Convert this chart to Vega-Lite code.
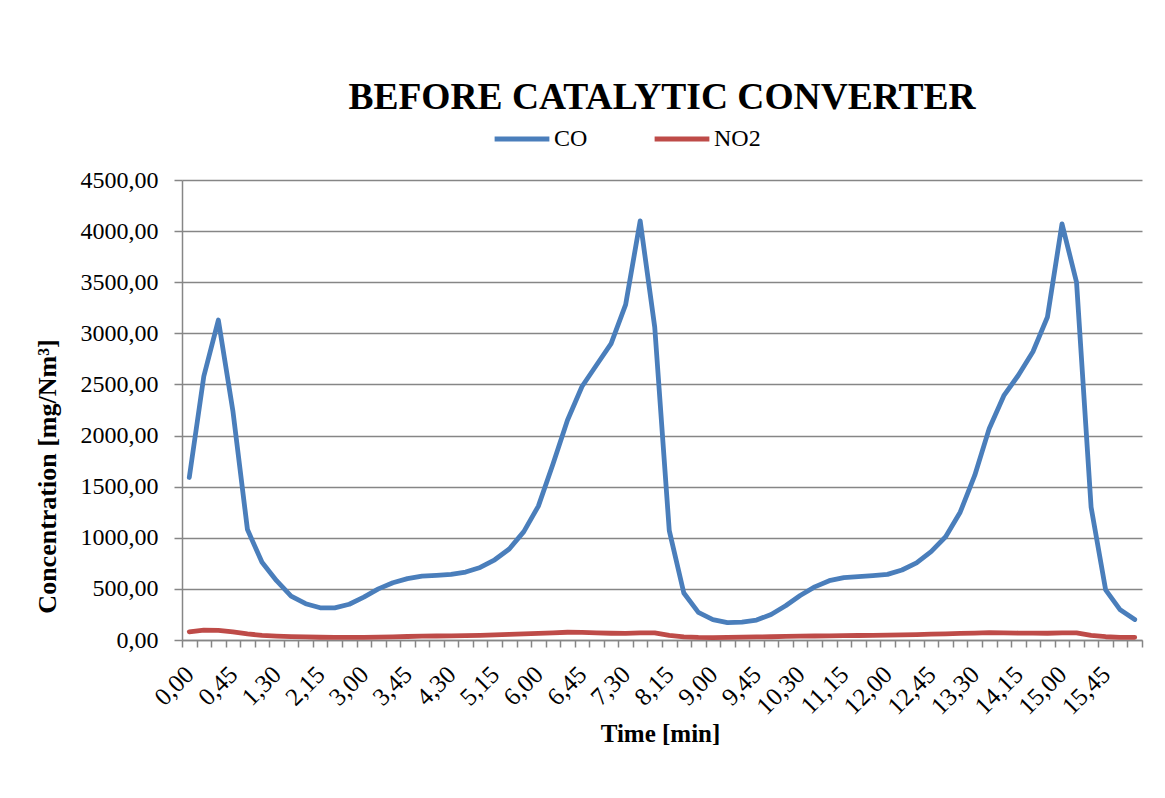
{
  "$schema": "https://vega.github.io/schema/vega-lite/v6.json",
  "width": 960,
  "height": 460,
  "autosize": {"type": "none"},
  "padding": {"left": 182, "top": 180, "right": 23, "bottom": 158},
  "background": "white",
  "title": {"text": "BEFORE CATALYTIC CONVERTER", "font": "Liberation Serif", "fontSize": 37.5, "fontWeight": "bold", "color": "#000000", "anchor": "middle", "frame": "group", "baseline": "alphabetic", "offset": 69, "dy": 106},
  "data": {"values": [
    {"t": "0,00", "CO": 1590, "NO2": 80},
    {"t": "0,15", "CO": 2580, "NO2": 97},
    {"t": "0,30", "CO": 3130, "NO2": 95},
    {"t": "0,45", "CO": 2240, "NO2": 80},
    {"t": "1,00", "CO": 1080, "NO2": 60},
    {"t": "1,15", "CO": 760, "NO2": 45},
    {"t": "1,30", "CO": 580, "NO2": 38},
    {"t": "1,45", "CO": 430, "NO2": 33},
    {"t": "2,00", "CO": 355, "NO2": 30},
    {"t": "2,15", "CO": 315, "NO2": 27},
    {"t": "2,30", "CO": 315, "NO2": 25},
    {"t": "2,45", "CO": 350, "NO2": 25},
    {"t": "3,00", "CO": 420, "NO2": 26},
    {"t": "3,15", "CO": 500, "NO2": 28},
    {"t": "3,30", "CO": 560, "NO2": 31},
    {"t": "3,45", "CO": 600, "NO2": 34},
    {"t": "4,00", "CO": 625, "NO2": 37},
    {"t": "4,15", "CO": 633, "NO2": 39},
    {"t": "4,30", "CO": 642, "NO2": 41},
    {"t": "4,45", "CO": 665, "NO2": 43},
    {"t": "5,00", "CO": 710, "NO2": 46},
    {"t": "5,15", "CO": 785, "NO2": 50},
    {"t": "5,30", "CO": 890, "NO2": 55},
    {"t": "5,45", "CO": 1060, "NO2": 60},
    {"t": "6,00", "CO": 1310, "NO2": 65},
    {"t": "6,15", "CO": 1720, "NO2": 70},
    {"t": "6,30", "CO": 2150, "NO2": 76},
    {"t": "6,45", "CO": 2480, "NO2": 74},
    {"t": "7,00", "CO": 2690, "NO2": 70},
    {"t": "7,15", "CO": 2900, "NO2": 66},
    {"t": "7,30", "CO": 3280, "NO2": 65},
    {"t": "7,45", "CO": 4100, "NO2": 70},
    {"t": "8,00", "CO": 3060, "NO2": 70},
    {"t": "8,15", "CO": 1070, "NO2": 45},
    {"t": "8,30", "CO": 460, "NO2": 30},
    {"t": "8,45", "CO": 270, "NO2": 25},
    {"t": "9,00", "CO": 200, "NO2": 24},
    {"t": "9,15", "CO": 170, "NO2": 26},
    {"t": "9,30", "CO": 175, "NO2": 28},
    {"t": "9,45", "CO": 195, "NO2": 30},
    {"t": "10,00", "CO": 250, "NO2": 32},
    {"t": "10,15", "CO": 335, "NO2": 35},
    {"t": "10,30", "CO": 435, "NO2": 37},
    {"t": "10,45", "CO": 520, "NO2": 39},
    {"t": "11,00", "CO": 580, "NO2": 41},
    {"t": "11,15", "CO": 610, "NO2": 42},
    {"t": "11,30", "CO": 620, "NO2": 44},
    {"t": "11,45", "CO": 630, "NO2": 45},
    {"t": "12,00", "CO": 642, "NO2": 47},
    {"t": "12,15", "CO": 685, "NO2": 50},
    {"t": "12,30", "CO": 755, "NO2": 53},
    {"t": "12,45", "CO": 865, "NO2": 57},
    {"t": "13,00", "CO": 1010, "NO2": 60},
    {"t": "13,15", "CO": 1250, "NO2": 64},
    {"t": "13,30", "CO": 1610, "NO2": 68},
    {"t": "13,45", "CO": 2070, "NO2": 72},
    {"t": "14,00", "CO": 2390, "NO2": 70},
    {"t": "14,15", "CO": 2590, "NO2": 68},
    {"t": "14,30", "CO": 2820, "NO2": 67},
    {"t": "14,45", "CO": 3160, "NO2": 66},
    {"t": "15,00", "CO": 4070, "NO2": 70},
    {"t": "15,15", "CO": 3500, "NO2": 70},
    {"t": "15,30", "CO": 1300, "NO2": 45},
    {"t": "15,45", "CO": 490, "NO2": 32},
    {"t": "16,00", "CO": 295, "NO2": 26},
    {"t": "16,15", "CO": 200, "NO2": 26}
  ]},
  "transform": [{"fold": ["CO", "NO2"], "as": ["series", "value"]}],
  "mark": {"type": "line", "strokeWidth": 4.8, "strokeCap": "round", "strokeJoin": "round"},
  "encoding": {
    "x": {
      "field": "t", "type": "ordinal", "sort": null, "bandPosition": 0.5,
      "scale": {"type": "band", "paddingInner": 0, "paddingOuter": 0},
      "axis": {
        "title": "Time [min]", "titleFont": "Liberation Serif", "titleFontSize": 25, "titleFontWeight": "bold", "titleColor": "#000000",
        "titleX": 478, "titleY": 93, "titleBaseline": "middle", "titleAlign": "center",
        "tickBand": "extent", "ticks": true, "tickSize": 7, "tickColor": "#868686", "tickWidth": 1.5,
        "domainColor": "#868686", "domainWidth": 1.5, "grid": false,
        "labelAngle": -45, "labelAlign": "right", "labelBaseline": "middle", "labelPadding": 23,
        "labelFont": "Liberation Serif", "labelFontSize": 25, "labelColor": "#000000", "labelOverlap": false,
        "labelExpr": "(parseInt(split(datum.value, ',')[0]) * 60 + parseInt(split(datum.value, ',')[1])) % 45 == 0 ? datum.value : ''"
      }
    },
    "y": {
      "field": "value", "type": "quantitative",
      "scale": {"domain": [0, 4500], "nice": false},
      "axis": {
        "title": "Concentration [mg/Nm³]", "titleFont": "Liberation Serif", "titleFontSize": 26, "titleFontWeight": "bold", "titleColor": "#000000",
        "titleX": -135, "titleY": 296, "titleAngle": -90, "titleBaseline": "middle", "titleAlign": "center",
        "values": [0, 500, 1000, 1500, 2000, 2500, 3000, 3500, 4000, 4500],
        "labelExpr": "replace(format(datum.value, '.2f'), '.', ',')",
        "labelFont": "Liberation Serif", "labelFontSize": 24, "labelColor": "#000000", "labelPadding": 16,
        "tickSize": 8, "tickColor": "#868686", "tickWidth": 1.5,
        "domainColor": "#868686", "domainWidth": 1.5,
        "grid": true, "gridColor": "#868686", "gridWidth": 1.5
      }
    },
    "color": {
      "field": "series", "type": "nominal",
      "scale": {"domain": ["CO", "NO2"], "range": ["#4A7EBB", "#BE4B48"]},
      "legend": {
        "title": null, "orient": "none", "legendX": 310, "legendY": -71, "direction": "horizontal",
        "symbolType": "stroke", "symbolSize": 3000, "symbolStrokeWidth": 4.8,
        "labelFont": "Liberation Serif", "labelFontSize": 24, "labelColor": "#000000", "labelOffset": 2,
        "columnPadding": 57, "padding": 0
      }
    }
  },
  "config": {"view": {"stroke": null}}
}
